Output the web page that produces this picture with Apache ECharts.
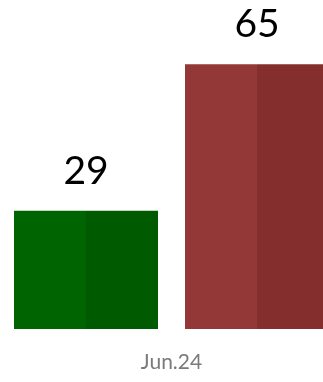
<!DOCTYPE html>
<html>
<head>
<meta charset="utf-8">
<script src="https://cdn.jsdelivr.net/npm/echarts@6/dist/echarts.min.js"></script>
<style>html,body{margin:0;padding:0;background:#fff}#c{width:323px;height:382px}</style>
</head>
<body>
<div id="c"></div>
<script>
const categories = ['Jun.24'];
const greenValues = [29];
const redValues = [65];

function split(a, b) {
  return {type:'linear', x:0, y:0, x2:1, y2:0, colorStops:[
    {offset:0, color:a},{offset:0.5, color:a},{offset:0.5, color:b},{offset:1, color:b}]};
}
const labelStyle = {show:true, position:'top', distance:20, fontSize:39, color:'#000', fontFamily:'Lato'};
const chart = echarts.init(document.getElementById('c'));
chart.setOption({
  animation:false,
  grid:{left:14, width:315, top:3, height:326, containLabel:false, outerBoundsMode:'none'},
  xAxis:{type:'category', data:categories, axisLine:{show:false}, axisTick:{show:false},
    axisLabel:{margin:23, fontSize:21, color:'#7a7a7a', fontFamily:'Lato'}},
  yAxis:{type:'value', min:0, max:80, show:false, splitLine:{show:false}},
  series:[
    {type:'bar', data:greenValues, barWidth:144, barGap:'18.75%',
     itemStyle:{color:split('#006400','#005a00')}, label:labelStyle},
    {type:'bar', data:redValues, barWidth:144,
     itemStyle:{color:split('#943737','#852e2e')}, label:labelStyle}
  ]
});
</script>
</body>
</html>
